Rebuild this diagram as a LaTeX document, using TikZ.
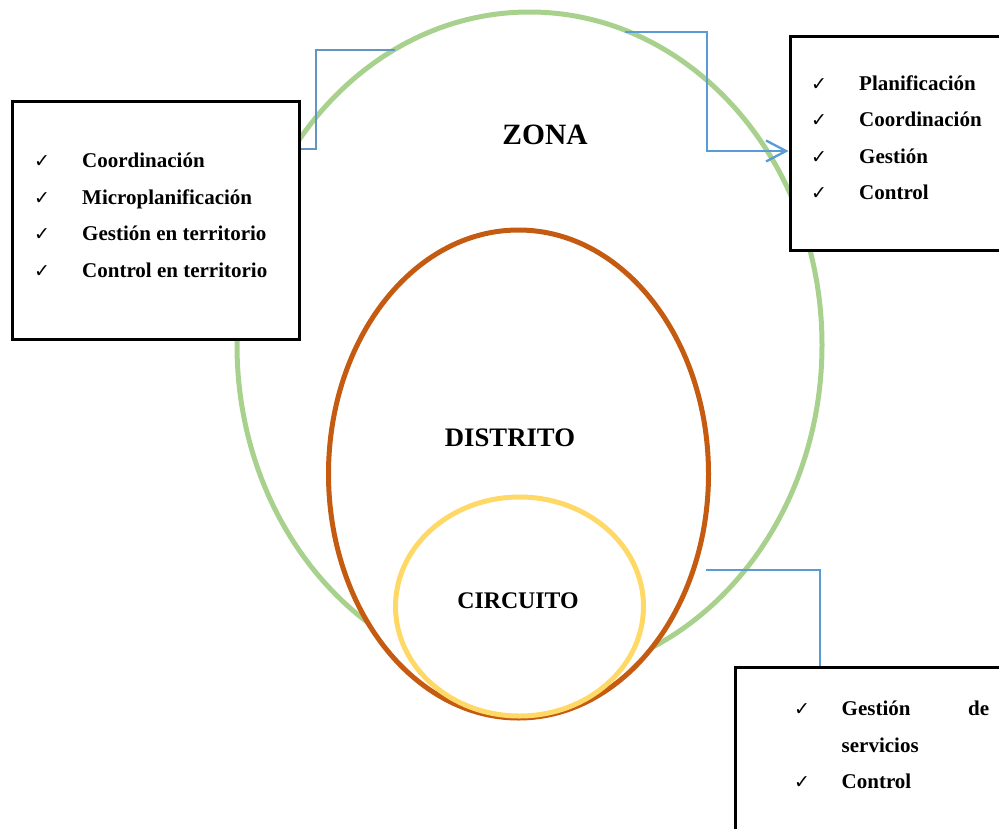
\documentclass[tikz,border=0pt]{standalone}
\usepackage{fontspec}
\setmainfont{Liberation Serif}
\newfontfamily\symfont{DejaVu Sans}
\usetikzlibrary{arrows.meta}
\definecolor{zgreen}{HTML}{A9D18E}
\definecolor{dbrown}{HTML}{C55A11}
\definecolor{cyellow}{HTML}{FFD966}
\definecolor{lblue}{HTML}{5B9BD5}
\tikzset{
  ring/.style={line width=5pt, fill=white},
  listbox/.style={draw=black, line width=3pt, fill=white, inner sep=0pt, minimum width=#1},
  item/.style={anchor=base west, inner sep=0pt, font=\fontsize{21}{24}\selectfont\bfseries},
  tick/.style={anchor=base west, inner sep=0pt, font=\symfont\bfseries\fontsize{19}{22}\selectfont},
  title/.style={anchor=base, inner sep=0pt, font=\bfseries},
  link/.style={draw=lblue, line width=2.3pt},
}
\begin{document}
\begin{tikzpicture}[x=1pt,y=-1pt]
\useasboundingbox (0,0) rectangle (999,828);
\clip (0,0) rectangle (999,828);
% ellipses
\draw[ring, draw=zgreen, fill=none] (529.5,345) ellipse [x radius=292.5, y radius=333];
\draw[ring, draw=dbrown] (518.5,474) ellipse [x radius=190, y radius=244];
\draw[ring, draw=cyellow, fill=none] (519.5,606.5) ellipse [x radius=124, y radius=109.5];
% titles
\node[title, font=\fontsize{29.5}{32}\selectfont\bfseries] (zona) at (545,144) {ZONA};
\node[title, font=\fontsize{26.7}{30}\selectfont\bfseries] (distrito) at (510,446) {DISTRITO};
\node[title, font=\fontsize{23.8}{26}\selectfont\bfseries] (circuito) at (518,608.5) {CIRCUITO};
% boxes
\node[listbox=287pt, minimum height=238pt] (lbox) at (155.5,220) {};
\node[listbox=230pt, minimum height=214pt] (rbox) at (905,143) {};
\node[listbox=285pt, minimum height=180pt] (bbox) at (877.5,757) {};
% left list
\node[tick] (lt1) at (34,167) {✓};
\node[tick] (lt2) at (34,204) {✓};
\node[tick] (lt3) at (34,240) {✓};
\node[tick] (lt4) at (34,277) {✓};
\node[item] (li1) at (82,167) {Coordinación};
\node[item] (li2) at (82,204) {Microplanificación};
\node[item] (li3) at (82,240) {Gestión en territorio};
\node[item] (li4) at (82,277) {Control en territorio};
% right list
\node[tick] (rt1) at (811,90.5) {✓};
\node[tick] (rt2) at (811,126.5) {✓};
\node[tick] (rt3) at (811,163) {✓};
\node[tick] (rt4) at (811,199) {✓};
\node[item] (ri1) at (859,90.5) {Planificación};
\node[item] (ri2) at (859,126.5) {Coordinación};
\node[item] (ri3) at (859,163) {Gestión};
\node[item] (ri4) at (859,199) {Control};
% bottom list
\node[tick] (bt1) at (794,715.5) {✓};
\node[tick] (bt2) at (794,788) {✓};
\node[item] (bi1) at (841.5,715.5) {Gestión};
\node[item] (bi1b) at (968,715.5) {de};
\node[item] (bi2) at (841.5,752.5) {servicios};
\node[item] (bi3) at (841.5,788) {Control};
% connectors
\coordinate (c1a) at (316,149);
\coordinate (c1b) at (316,50);
\coordinate (c1c) at (395,50);
\draw[draw=lblue!80!gray, line width=1.3pt] (lbox.east |- c1a) -- (c1a) -- (c1b) -- (c1c);
\coordinate (c2a) at (625,32);
\coordinate (c2b) at (707,32);
\coordinate (c2c) at (707,151);
\draw[link, -{Straight Barb[length=20pt,width=21pt,line width=2.3pt]}] (c2a) -- (c2b) -- (c2c) -- (rbox.west |- c2c);
\coordinate (c3a) at (706,570);
\coordinate (c3b) at (820,570);
\draw[link] (c3a) -- (c3b) -- (c3b |- bbox.north);
\end{tikzpicture}
\end{document}
